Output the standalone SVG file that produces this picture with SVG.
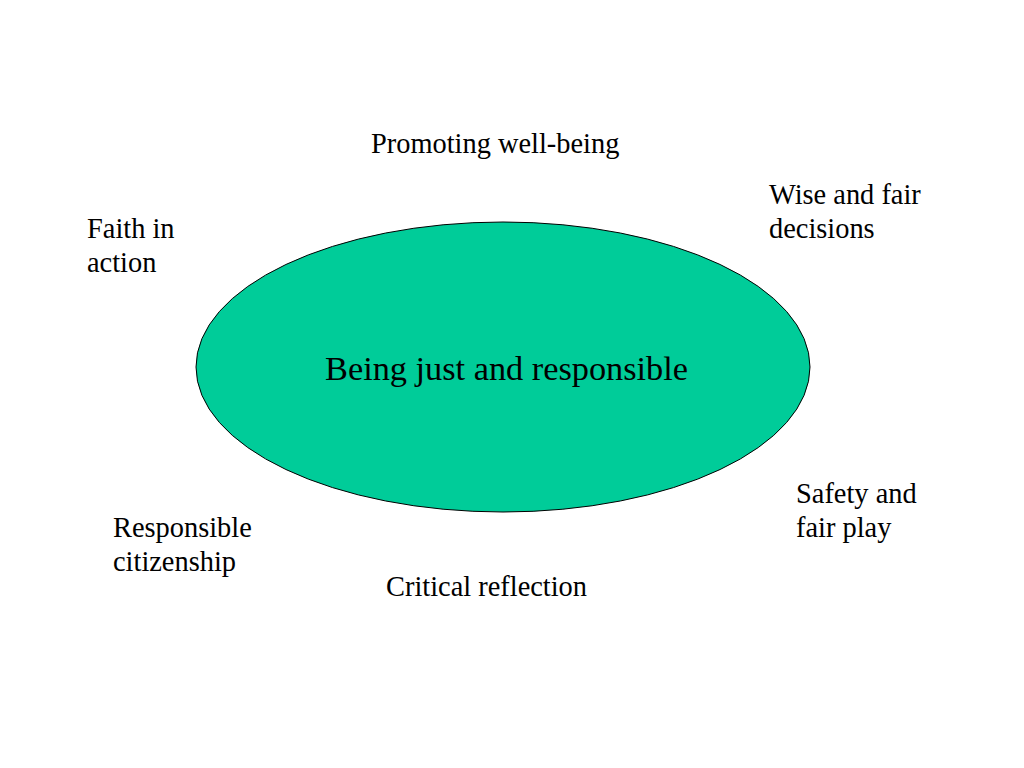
<svg xmlns="http://www.w3.org/2000/svg" width="1024" height="768" viewBox="0 0 1024 768">
<style>
.t{font-family:"Liberation Serif","Times New Roman",serif;font-size:28.4px;fill:#000}
.c{font-family:"Liberation Serif","Times New Roman",serif;font-size:34.3px;fill:#000}
</style>
<rect width="1024" height="768" fill="#fff"/>
<g id="connectors"></g>
<g id="center">
<ellipse cx="503" cy="367" rx="307" ry="145" fill="#00CC99" stroke="#000" stroke-width="1"/>
<text class="c" x="506.5" y="380" text-anchor="middle">Being just and responsible</text>
</g>
<g id="promoting"><text class="t" x="371" y="153">Promoting well-being</text></g>
<g id="wise"><text class="t" x="769" y="204">Wise and fair</text><text class="t" x="769" y="238">decisions</text></g>
<g id="faith"><text class="t" x="87" y="238">Faith in</text><text class="t" x="87" y="272">action</text></g>
<g id="safety"><text class="t" x="796" y="503">Safety and</text><text class="t" x="796" y="537">fair play</text></g>
<g id="responsible"><text class="t" x="113" y="537">Responsible</text><text class="t" x="113" y="571">citizenship</text></g>
<g id="critical"><text class="t" x="386" y="596">Critical reflection</text></g>
</svg>
